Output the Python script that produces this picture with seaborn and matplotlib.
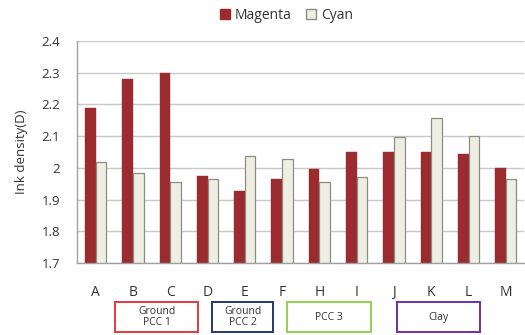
import matplotlib
matplotlib.use("Agg")
import matplotlib.pyplot as plt
import matplotlib.transforms as mtransforms
from matplotlib.patches import Rectangle
from matplotlib.lines import Line2D
import seaborn as sns
import pandas as pd
import numpy as np

samples = ["A", "B", "C", "D", "E", "F", "H", "I", "J", "K", "L", "M"]
magenta = [2.19, 2.28, 2.30, 1.975, 1.926, 1.965, 1.995, 2.05, 2.05, 2.05, 2.043, 2.00]
cyan = [2.02, 1.984, 1.954, 1.964, 2.037, 2.028, 1.956, 1.972, 2.098, 2.157, 2.10, 1.964]
series_names = ["Magenta", "Cyan"]
y_ticks = [1.7, 1.8, 1.9, 2.0, 2.1, 2.2, 2.3, 2.4]
y_tick_labels = ["1.7", "1.8", "1.9", "2", "2.1", "2.2", "2.3", "2.4"]

# pigment groups: label, span along the category axis, frame colour
group_labels = ["Ground\nPCC 1", "Ground\nPCC 2", "PCC 3", "Clay"]
group_spans = [(1.03, 3.25), (3.63, 5.26), (5.63, 7.88), (8.58, 10.8)]
group_colors = ["#E8383D", "#1F3A6E", "#92D050", "#7030A0"]

df = pd.DataFrame({
    "sample": samples * 2,
    "series": [series_names[0]] * len(samples) + [series_names[1]] * len(samples),
    "density": magenta + cyan,
})

sns.set_theme(style="white")
plt.rcParams["font.family"] = ["Open Sans", "DejaVu Sans"]

fig = plt.figure(figsize=(5.25, 3.35), dpi=100)
ax = fig.add_axes([77 / 525, 1 - 263 / 335, 1 - 77 / 525 - 0.001, 222 / 335])

bar_red = "#9A2B2E"
bar_light = "#EEEEE2"
sns.barplot(data=df, x="sample", y="density", hue="series", order=samples,
            hue_order=series_names, palette=[bar_red, bar_light],
            width=0.57, gap=0, ax=ax, legend=False, saturation=1)

# outline only the light bars
n = len(samples)
for i, p in enumerate(ax.patches):
    if i >= n:
        p.set_edgecolor("#8C8C84")
        p.set_linewidth(0.9)
    else:
        p.set_edgecolor(bar_red)
        p.set_linewidth(0.3)

ax.set_ylim(1.7, 2.4)
ax.set_xlim(-0.5, n - 0.5)
ax.set_yticks(y_ticks)
ax.set_yticklabels(y_tick_labels, fontsize=9.5, color="#333333")
ax.yaxis.grid(True, color="#C8C8C8", linewidth=1)
ax.set_axisbelow(True)

ax.set_xlabel("")
ax.set_ylabel("Ink density(D)", fontsize=9.5, color="#333333", labelpad=10)
ax.tick_params(axis="x", length=0, pad=16, labelsize=10, labelcolor="#333333")
ax.tick_params(axis="y", length=0, pad=12)
ax.set_xticks(np.arange(-0.5, n, 1.0), minor=True)
ax.tick_params(axis="x", which="minor", length=4, direction="out", color="#A0A0A0", width=1)

for side in ["top", "right"]:
    ax.spines[side].set_visible(False)
for side in ["left", "bottom"]:
    ax.spines[side].set_color("#A0A0A0")
    ax.spines[side].set_linewidth(1)

# group frames under the category labels
trans = mtransforms.blended_transform_factory(ax.transData, ax.transAxes)
box_bottom, box_top = -0.311, -0.176
for label, (x0, x1), col in zip(group_labels, group_spans, group_colors):
    ax.add_patch(Rectangle((x0 - 0.5, box_bottom), x1 - x0, box_top - box_bottom,
                           transform=trans, fill=False, edgecolor=col,
                           linewidth=1.4, clip_on=False))
    ax.text((x0 + x1) / 2 - 0.5, (box_bottom + box_top) / 2, label, transform=trans,
            ha="center", va="center", fontsize=7.5, color="#333333",
            linespacing=1.1)

handles = [
    Line2D([], [], marker="s", linestyle="", markersize=7,
           markerfacecolor=bar_red, markeredgecolor=bar_red),
    Line2D([], [], marker="s", linestyle="", markersize=7,
           markerfacecolor=bar_light, markeredgecolor="#8C8C84"),
]
fig.legend(handles, series_names, loc="center", bbox_to_anchor=(0.545, 0.955),
           ncol=2, frameon=False, fontsize=10, handlelength=0.8,
           handletextpad=0.3, columnspacing=1.0, labelcolor="#333333")

fig.savefig("out.png", dpi=100)
